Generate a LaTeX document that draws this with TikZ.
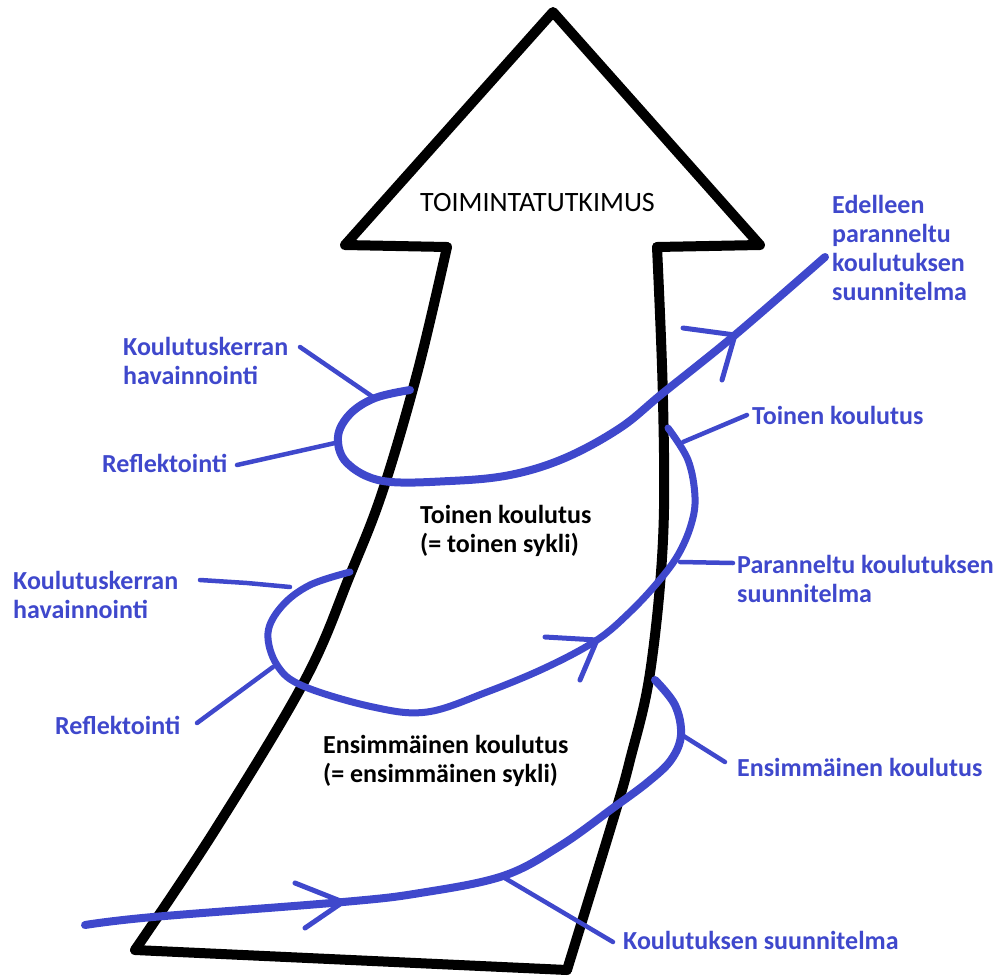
\documentclass[tikz,border=0pt]{standalone}
\usepackage{fontspec}
\setmainfont{Carlito}
\definecolor{paintblue}{RGB}{63,72,204}
\newcommand{\cyclefont}{\fontsize{26}{29}\selectfont\bfseries}

\begin{document}
\begin{tikzpicture}[x=1pt, y=-1pt,
    outline/.style={line width=10pt, line cap=round, line join=round},
    spiral/.style={paintblue, line width=8pt, line cap=round},
    barb/.style={paintblue, line width=5pt, line cap=round},
    leader/.style={paintblue, line width=4.5pt, line cap=round},
    bluetext/.style={text=paintblue, font=\cyclefont, anchor=west, align=left, inner sep=0pt},
    blacktext/.style={font=\cyclefont, anchor=west, align=left, inner sep=0pt}]
    \useasboundingbox (0, 0) rectangle (1005, 978);

    % the big arrow
    \draw[outline] (447, 247) -- (345, 245) -- (553, 12) -- (760, 245) -- (657, 247);
    \draw[outline] plot[smooth, tension=0.6] coordinates {(447, 247) (418, 370) (383, 490)
        (350, 575) (305, 680) (215, 830) (135, 950)};
    \draw[outline] plot[smooth, tension=0.6] coordinates {(657, 247) (663, 400) (663, 540)
        (650, 673) (630, 760) (613, 820) (567, 970)};
    \draw[outline] (135, 950) -- (567, 970);

    % spiral, first cycle
    \draw[spiral] plot[smooth, tension=0.6] coordinates {(85, 925) (153, 917) (343, 902)
        (420, 893) (503, 876) (560, 846) (613, 808) (648, 782)
        (671, 760) (681, 735) (675, 705) (655, 680)};
    % spiral, second cycle
    \draw[spiral, line width=7pt] plot[smooth, tension=0.6] coordinates {(350, 572) (310, 585)
        (282, 606) (268, 633) (277, 665) (303, 686) (373, 707) (427, 712) (487, 692)
        (547, 667) (597, 640) (630, 612) (658, 582) (678, 555) (691, 525) (695, 497)
        (688, 460) (668, 428)};
    % spiral, onwards
    \draw[spiral] plot[smooth, tension=0.6] coordinates {(410, 390) (375, 398) (350, 414)
        (338, 437) (347, 463) (383, 481) (450, 481) (510, 475) (565, 458) (620, 428)
        (663, 393) (735, 335) (825, 257)};

    % arrowheads on the spiral
    \coordinate (tipA) at (343, 902);
    \coordinate (tipB) at (597, 640);
    \coordinate (tipC) at (735, 335);
    \draw[barb] (295, 883) -- (tipA) -- (305, 928);
    \draw[barb] (545, 637) -- (tipB) -- (580, 680);
    \draw[barb] (683, 328) -- (tipC) -- (722, 380);

    % texts
    \node[blacktext] (title) at (420, 203) {\fontsize{28}{30}\selectfont\mdseries TOIMINTATUTKIMUS};
    \node[blacktext] (cycleSecond) at (420, 531) {Toinen koulutus\\(= toinen sykli)};
    \node[blacktext] (cycleFirst) at (323, 761) {Ensimmäinen koulutus\\(= ensimmäinen sykli)};

    \node[bluetext] (obsUpper) at (123, 361) {Koulutuskerran\\havainnointi};
    \node[bluetext] (reflUpper) at (102, 463) {Reflektointi};
    \node[bluetext] (obsLower) at (13, 595) {Koulutuskerran\\havainnointi};
    \node[bluetext] (reflLower) at (55, 725) {Reflektointi};
    \node[bluetext, align=left] (planFinal) at (832, 248) {Edelleen\\paranneltu\\koulutuksen\\suunnitelma};
    \node[bluetext] (secondRight) at (752, 415) {Toinen koulutus};
    \node[bluetext] (planImproved) at (737, 579) {Paranneltu koulutuksen\\suunnitelma};
    \node[bluetext] (firstRight) at (737, 767) {Ensimmäinen koulutus};
    \node[bluetext] (planFirst) at (623, 940) {Koulutuksen suunnitelma};

    % leaders from the texts to the spiral
    \coordinate (obsUpperEnd) at (373, 397);
    \coordinate (reflUpperEnd) at (335, 443);
    \coordinate (obsLowerEnd) at (290, 587);
    \coordinate (reflLowerEnd) at (273, 667);
    \coordinate (secondRightEnd) at (683, 442);
    \coordinate (planImprovedEnd) at (680, 562);
    \coordinate (firstRightEnd) at (682, 735);
    \coordinate (planFirstEnd) at (503, 877);

    \draw[leader] (300, 347) -- (obsUpperEnd);
    \draw[leader] (237, 465) -- (reflUpperEnd);
    \draw[leader] (200, 580) -- (247, 583) -- (obsLowerEnd);
    \draw[leader] (197, 723) -- (reflLowerEnd);
    \draw[leader] (747, 415) -- (secondRightEnd);
    \draw[leader] (733, 563) -- (planImprovedEnd);
    \draw[leader] (725, 762) -- (firstRightEnd);
    \draw[leader] (613, 942) -- (planFirstEnd);
\end{tikzpicture}
\end{document}
